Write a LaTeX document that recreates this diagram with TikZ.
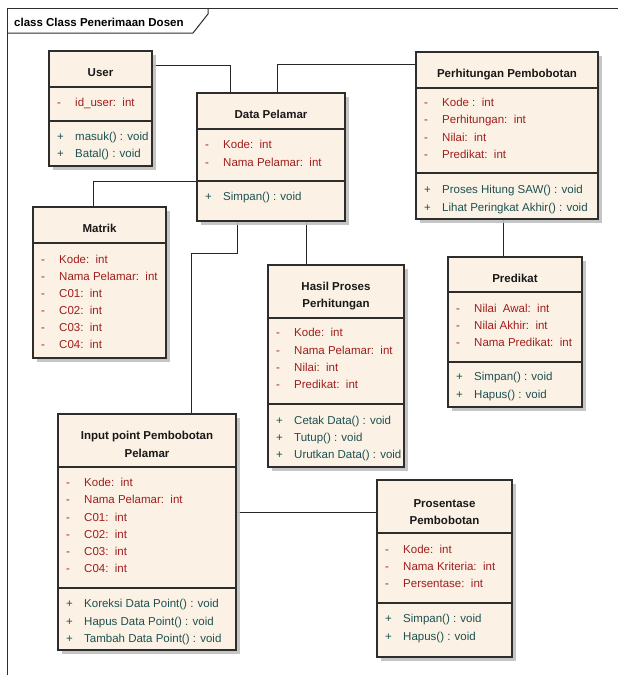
\documentclass[tikz,border=0pt]{standalone}
\usepackage{fontspec}
\setmainfont{Liberation Sans}
\usetikzlibrary{shadows,backgrounds}
\definecolor{cream}{RGB}{251,241,228}
\definecolor{attrc}{RGB}{160,30,30}
\definecolor{methc}{RGB}{28,82,82}
\definecolor{edgec}{RGB}{45,45,45}
\tikzset{
  umlbox/.style={draw=edgec, line width=1.2pt, fill=cream, anchor=north west, inner sep=0pt, outer sep=0pt,
    drop shadow={shadow xshift=4pt, shadow yshift=-4pt, fill=black!25, opacity=0.9}},
  sepline/.style={draw=edgec, line width=1.1pt},
  conn/.style={draw=black!85, line width=1pt},
  ctitle/.style={font=\fontsize{11.5}{13}\selectfont\bfseries, anchor=base, inner sep=0pt, text=black!90},
  attr/.style={font=\fontsize{11.5}{14}\selectfont, anchor=base west, inner sep=0pt, text=attrc},
  meth/.style={font=\fontsize{11.5}{14}\selectfont, anchor=base west, inner sep=0pt, text=methc},
}
\newcommand\classbox[5]{\node[umlbox, minimum width={#4-#2}, minimum height={#5-#3}] (#1) at (#2,#3) {};}
\newcommand\seprow[3]{\draw[sepline] (#1,#3) -- ({#2+1},#3);}
\newcommand\urow[6]{\node[#6] (#1s) at ({#2+8},#3) {#4}; \node[#6] (#1) at ({#2+26},#3) {#5};}
\begin{document}
\begin{tikzpicture}[x=1pt,y=-1pt]
\useasboundingbox (0,0) rectangle (618,675);
% frame
\draw[edgec, line width=1pt] (7,675) -- (7,8) -- (618,8);
\draw[edgec, line width=1pt] (7,33) -- (193,33) -- (208,14) -- (208,8);
\node[font=\fontsize{11.5}{13}\selectfont\bfseries, anchor=base west, inner sep=0pt] (frametitle) at (14,26.5) {class Class Penerimaan Dosen};

% User
\classbox{user}{49}{51}{152}{166}
\seprow{49}{152}{87}\seprow{49}{152}{121}
\node[ctitle] (userT) at (100.5,76) {User};
\urow{userA1}{49}{106}{-}{id\_user:\ \ int}{attr}
\urow{userM1}{49}{140}{+}{masuk() : void}{meth}
\urow{userM2}{49}{157.5}{+}{Batal() : void}{meth}

% Data Pelamar
\classbox{dp}{197}{93}{345}{221}
\seprow{197}{345}{129}\seprow{197}{345}{181}
\node[ctitle] (dpT) at (271,118) {Data Pelamar};
\urow{dpA1}{197}{148}{-}{Kode:\ \ int}{attr}
\urow{dpA2}{197}{166}{-}{Nama Pelamar:\ \ int}{attr}
\urow{dpM1}{197}{200}{+}{Simpan() : void}{meth}

% Perhitungan Pembobotan
\classbox{ph}{416}{52}{598}{219}
\seprow{416}{598}{88}\seprow{416}{598}{173}
\node[ctitle] (phT) at (507,77.5) {Perhitungan Pembobotan};
\urow{phA1}{416}{106}{-}{Kode :\ \ int}{attr}
\urow{phA2}{416}{123.5}{-}{Perhitungan:\ \ int}{attr}
\urow{phA3}{416}{141}{-}{Nilai:\ \ int}{attr}
\urow{phA4}{416}{158}{-}{Predikat:\ \ int}{attr}
\urow{phM1}{416}{193}{+}{Proses Hitung SAW() : void}{meth}
\urow{phM2}{416}{211}{+}{Lihat Peringkat Akhir() : void}{meth}

% Matrik
\classbox{matrik}{33}{207}{166}{358}
\seprow{33}{166}{243}
\node[ctitle] (matrikT) at (99.5,232.5) {Matrik};
\urow{mA1}{33}{263}{-}{Kode:\ \ int}{attr}
\urow{mA2}{33}{280}{-}{Nama Pelamar:\ \ int}{attr}
\urow{mA3}{33}{297}{-}{C01:\ \ int}{attr}
\urow{mA4}{33}{314}{-}{C02:\ \ int}{attr}
\urow{mA5}{33}{331.5}{-}{C03:\ \ int}{attr}
\urow{mA6}{33}{348.5}{-}{C04:\ \ int}{attr}

% Hasil Proses Perhitungan
\classbox{hasil}{268}{265}{404}{467}
\seprow{268}{404}{318}\seprow{268}{404}{404}
\node[ctitle] (hasilT1) at (336,290.5) {Hasil Proses};
\node[ctitle] (hasilT2) at (336,307.5) {Perhitungan};
\urow{hA1}{268}{336}{-}{Kode:\ \ int}{attr}
\urow{hA2}{268}{354}{-}{Nama Pelamar:\ \ int}{attr}
\urow{hA3}{268}{371}{-}{Nilai:\ \ int}{attr}
\urow{hA4}{268}{388}{-}{Predikat:\ \ int}{attr}
\urow{hM1}{268}{424}{+}{Cetak Data() : void}{meth}
\urow{hM2}{268}{441}{+}{Tutup() : void}{meth}
\urow{hM3}{268}{458}{+}{Urutkan Data() : void}{meth}

% Predikat
\classbox{pred}{448}{257}{582}{407}
\seprow{448}{582}{292}\seprow{448}{582}{362}
\node[ctitle] (predT) at (515,282.5) {Predikat};
\urow{pA1}{448}{312}{-}{Nilai\ \ Awal:\ \ int}{attr}
\urow{pA2}{448}{329}{-}{Nilai Akhir:\ \ int}{attr}
\urow{pA3}{448}{346.5}{-}{Nama Predikat:\ \ int}{attr}
\urow{pM1}{448}{380.5}{+}{Simpan() : void}{meth}
\urow{pM2}{448}{398}{+}{Hapus() : void}{meth}

% Input point Pembobotan Pelamar
\classbox{input}{58}{414}{236}{650}
\seprow{58}{236}{467}\seprow{58}{236}{588}
\node[ctitle] (inputT1) at (147,439.5) {Input point Pembobotan};
\node[ctitle] (inputT2) at (147,457.5) {Pelamar};
\urow{iA1}{58}{486}{-}{Kode:\ \ int}{attr}
\urow{iA2}{58}{503.5}{-}{Nama Pelamar:\ \ int}{attr}
\urow{iA3}{58}{521}{-}{C01:\ \ int}{attr}
\urow{iA4}{58}{538}{-}{C02:\ \ int}{attr}
\urow{iA5}{58}{555.5}{-}{C03:\ \ int}{attr}
\urow{iA6}{58}{572.5}{-}{C04:\ \ int}{attr}
\urow{iM1}{58}{607.5}{+}{Koreksi Data Point() : void}{meth}
\urow{iM2}{58}{625}{+}{Hapus Data Point() : void}{meth}
\urow{iM3}{58}{642}{+}{Tambah Data Point() : void}{meth}

% Prosentase Pembobotan
\classbox{pros}{377}{480}{512}{657}
\seprow{377}{512}{533}\seprow{377}{512}{603}
\node[ctitle] (prosT1) at (444.5,507.5) {Prosentase};
\node[ctitle] (prosT2) at (444.5,524.5) {Pembobotan};
\urow{sA1}{377}{553}{-}{Kode:\ \ int}{attr}
\urow{sA2}{377}{570.5}{-}{Nama Kriteria:\ \ int}{attr}
\urow{sA3}{377}{587.5}{-}{Persentase:\ \ int}{attr}
\urow{sM1}{377}{622.5}{+}{Simpan() : void}{meth}
\urow{sM2}{377}{640}{+}{Hapus() : void}{meth}

% connectors
\begin{scope}[on background layer]
\draw[conn] (user.east |- 0,65) -| (dp.north -| 230,0);
\draw[conn] (dp.north -| 277,0) |- (ph.west |- 0,64);
\draw[conn] (dp.west |- 0,181) -| (matrik.north -| 93,0);
\draw[conn] (dp.south -| 306,0) -- (hasil.north -| 306,0);
\draw[conn] (dp.south -| 237,0) -- (237,253) -| (input.north -| 191,0);
\draw[conn] (ph.south -| 503,0) -- (pred.north -| 503,0);
\draw[conn] (input.east |- 0,512) -- (pros.west |- 0,512);
\end{scope}
\end{tikzpicture}
\end{document}
